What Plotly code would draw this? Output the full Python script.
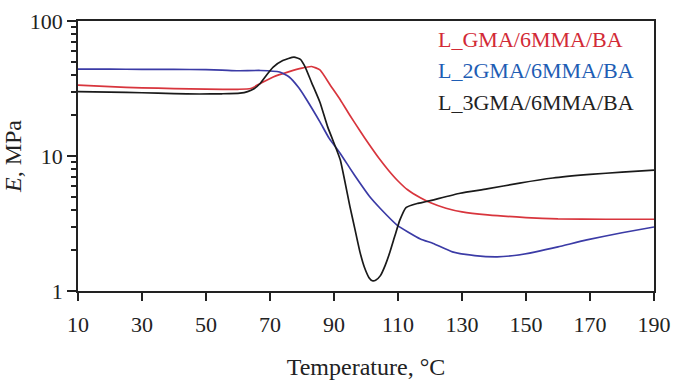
import plotly.graph_objects as go

# ---- data ----
red_T = [10, 20, 30, 40, 50, 60, 64, 67, 71, 76, 80, 83, 85.6, 89, 92, 95, 98, 101, 104, 107, 110, 113, 117, 120, 125, 130, 138, 150, 160, 175, 190]
red_E = [33.5, 32.6, 32.0, 31.6, 31.3, 31.2, 31.6, 34.5, 38.5, 42.2, 44.8, 46.0, 43.4, 33.0, 26.0, 19.95, 15.5, 12.16, 9.66, 7.85, 6.53, 5.62, 4.9, 4.52, 4.1, 3.85, 3.66, 3.5, 3.42, 3.4, 3.4]

blue_T = [10, 20, 30, 40, 50, 55, 60, 67, 73, 76, 79, 81.5, 85.6, 88.5, 91.9, 95, 98.1, 101, 104.4, 109.7, 117, 121, 127, 134, 141, 147, 153, 160, 169, 180, 190]
blue_E = [44.0, 44.0, 43.8, 43.8, 43.6, 43.3, 42.8, 43.0, 41.9, 38.5, 32.0, 26.0, 17.9, 13.5, 10.5, 8.1, 6.3, 5.05, 4.1, 3.08, 2.43, 2.25, 1.95, 1.83, 1.79, 1.84, 1.95, 2.12, 2.39, 2.7, 2.98]

black_T = [10, 20, 30, 40, 48, 55, 60.6, 63, 65, 67, 69, 71, 74, 77.5, 79.5, 81, 83, 85.6, 88, 90.9, 92, 95, 96.5, 98.1, 99.5, 101, 102, 103, 104.5, 106, 107.5, 109, 110.6, 112.5, 116, 119, 129.4, 137.8, 148, 158.4, 170, 180, 190]
black_E = [30.0, 29.7, 29.4, 29.0, 28.8, 28.9, 29.2, 30.0, 31.5, 34.6, 40.0, 45.6, 51.0, 54.0, 52.0, 45.6, 35.0, 25.0, 16.5, 11.0, 9.3, 4.2, 2.9, 1.95, 1.5, 1.25, 1.19, 1.2, 1.3, 1.55, 1.95, 2.55, 3.36, 4.15, 4.45, 4.6, 5.3, 5.7, 6.3, 6.87, 7.3, 7.6, 7.87]

x_ticks = [10, 30, 50, 70, 90, 110, 130, 150, 170, 190]
y_ticks = [1, 10, 100]
y_ticktext = ["1", "10", "100"]

names = ["L_GMA/6MMA/BA", "L_2GMA/6MMA/BA", "L_3GMA/6MMA/BA"]
line_colors = ["#d8353d", "#3b3ba6", "#1a1a1a"]
text_colors = ["#d22a36", "#1e5db4", "#222222"]

FONT = "Liberation Serif"

fig = go.Figure()
for T, E, c, n in [(red_T, red_E, line_colors[0], names[0]),
                   (blue_T, blue_E, line_colors[1], names[1]),
                   (black_T, black_E, line_colors[2], names[2])]:
    fig.add_trace(go.Scatter(x=T, y=E, mode="lines", name=n,
                             line=dict(color=c, width=1.7, shape="spline", smoothing=0.5)))

# legend as coloured text
for i, (n, c) in enumerate(zip(names, text_colors)):
    fig.add_annotation(text=n, xref="paper", yref="paper", x=0.6215,
                       y=[0.93, 0.815, 0.697][i], xanchor="left", yanchor="middle",
                       showarrow=False, font=dict(family=FONT, size=22, color=c))

fig.update_layout(
    width=673, height=383,
    margin=dict(l=78, r=19, t=21, b=92),
    plot_bgcolor="white", paper_bgcolor="white",
    showlegend=False,
    font=dict(family=FONT, size=22, color="#222"),
)
fig.update_xaxes(range=[10, 190], tickvals=x_ticks, ticks="outside", ticklen=8, tickwidth=2,
                 tickcolor="#222", showline=True, linecolor="#222", linewidth=1.5, mirror=True,
                 showgrid=False, zeroline=False, automargin=False, ticklabelstandoff=5,
                 ticklabeloverflow="allow",
                 title=dict(text="Temperature, °C", font=dict(family=FONT, size=24), standoff=22),
                 tickfont=dict(family=FONT, size=22))
fig.update_yaxes(type="log", range=[0, 2], tickvals=y_ticks, ticktext=y_ticktext,
                 ticks="outside", ticklen=9, tickwidth=2, tickcolor="#222",
                 minor=dict(ticks="outside", ticklen=5, tickwidth=1.5, tickcolor="#222",
                            dtick="D1", showgrid=False),
                 showline=True, linecolor="#222", linewidth=1.5, mirror=True,
                 showgrid=False, zeroline=False, automargin=False,
                 title=dict(text="<i>E</i>, MPa", font=dict(family=FONT, size=24), standoff=6),
                 tickfont=dict(family=FONT, size=22))

fig.write_html("out.html", config={"displayModeBar": False},
               post_script="document.body.style.margin='0';document.body.style.overflow='hidden';")
